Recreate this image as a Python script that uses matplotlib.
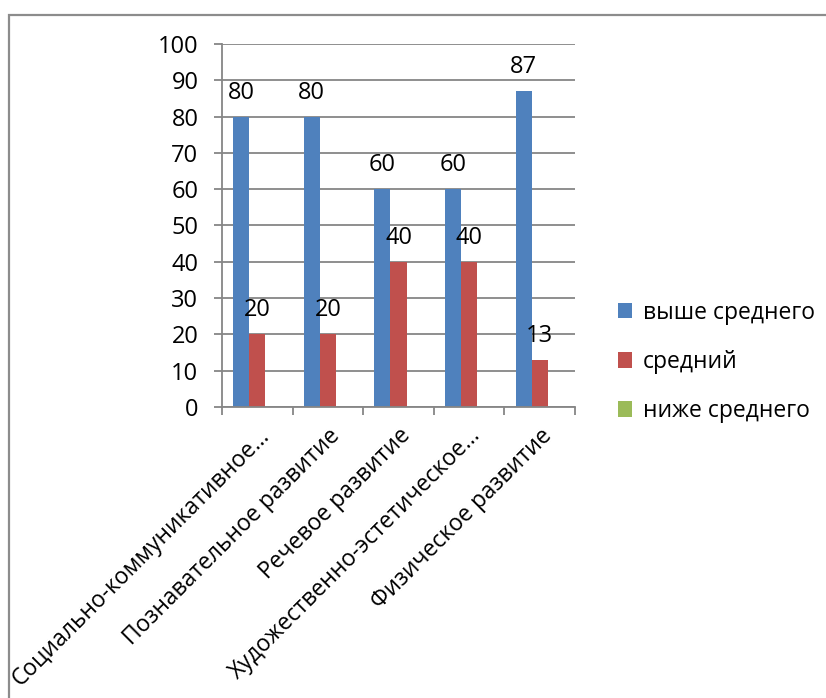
import matplotlib.pyplot as plt
from matplotlib.patches import Rectangle
import numpy as np

plt.rcParams['font.family'] = ['Open Sans', 'DejaVu Sans']

categories = ['Социально-коммуникативное…', 'Познавательное развитие',
              'Речевое развитие', 'Художественно-эстетическое…',
              'Физическое развитие']
above_avg = [80, 80, 60, 60, 87]
average = [20, 20, 40, 40, 13]
below_avg = [0, 0, 0, 0, 0]
series_names = ['выше среднего', 'средний', 'ниже среднего']
colors = ['#4f81bd', '#c0504d', '#9bbb59']

fig = plt.figure(figsize=(8.26, 6.98), dpi=100)
ax = fig.add_axes([222/826, 1-407/698, (575-222)/826, (407-44)/698])

# figure frame like the Excel chart area
fig.patches.append(Rectangle((9/826, -0.05), 1.1, 1-15/698+0.05, transform=fig.transFigure,
                             fill=False, edgecolor='#8c8c8c', linewidth=1.6))

x = np.arange(len(categories))
w = 0.227
grey = '#868686'
ax.set_axisbelow(True)
ax.yaxis.grid(True, color=grey, linewidth=1.3)

b1 = ax.bar(x - w, above_avg, w, color=colors[0], label=series_names[0])
b2 = ax.bar(x, average, w, color=colors[1], label=series_names[1])
b3 = ax.bar(x + w, below_avg, w, color=colors[2], label=series_names[2])

for bars in (b1, b2):
    for rect in bars:
        h = rect.get_height()
        ax.annotate(f'{h:g}', (rect.get_x() + rect.get_width()/2, h),
                    xytext=(0, 24), textcoords='offset pixels',
                    ha='center', va='center', fontsize=17)

ax.set_xlim(-0.5, len(categories) - 0.5)
ax.set_ylim(0, 100)
ax.set_yticks(range(0, 101, 10))
ax.tick_params(axis='y', labelsize=17, length=6, width=1.3, color=grey, pad=11)

ax.set_xticks(x)
ax.set_xticklabels(categories, rotation=45, ha='right', rotation_mode='anchor', fontsize=16.5)
ax.tick_params(axis='x', length=0, pad=12)
ax.set_xticks(np.arange(-0.5, len(categories)), minor=True)
ax.tick_params(axis='x', which='minor', length=6, width=1.3, color=grey)

for s in ['top', 'right']:
    ax.spines[s].set_visible(False)
for s in ['left', 'bottom']:
    ax.spines[s].set_color(grey)
    ax.spines[s].set_linewidth(1.3)

ax.legend(loc='center left', bbox_to_anchor=(1.062, 0.124), frameon=False, fontsize=16.5,
          handlelength=0.65, handleheight=0.65, handletextpad=0.45, labelspacing=1.1)

fig.savefig('out.png', dpi=100)
